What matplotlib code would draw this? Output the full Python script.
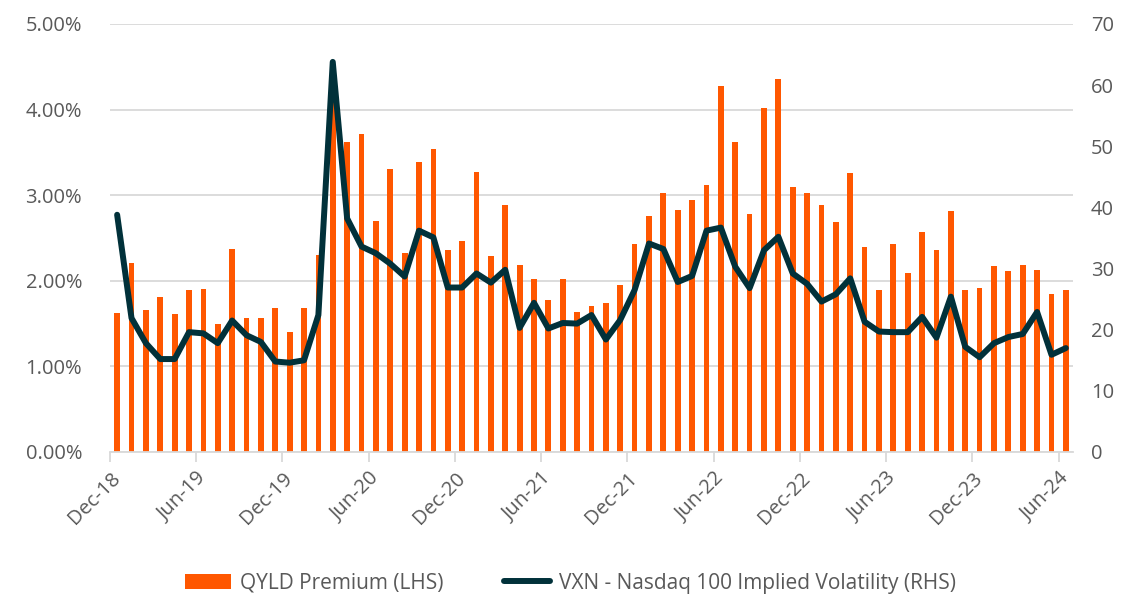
import numpy as np
import matplotlib.pyplot as plt
from matplotlib.ticker import FuncFormatter

# monthly data Dec-18 .. Jun-24
qyld_premium = [1.62, 2.21, 1.66, 1.81, 1.61, 1.89, 1.90, 1.50, 2.37, 1.56, 1.56, 1.68,
                1.40, 1.68, 2.30, 4.15, 3.62, 3.71, 2.70, 3.31, 2.32, 3.39, 3.54, 2.36,
                2.46, 3.27, 2.29, 2.88, 2.18, 2.02, 1.78, 2.02, 1.64, 1.70, 1.74, 1.95,
                2.43, 2.76, 3.03, 2.83, 2.94, 3.12, 4.27, 3.62, 2.78, 4.02, 4.36, 3.09,
                3.02, 2.88, 2.69, 3.26, 2.40, 1.89, 2.43, 2.09, 2.57, 2.36, 2.81, 1.89,
                1.91, 2.17, 2.12, 2.18, 2.13, 1.85, 1.89]
vxn = [38.8, 21.9, 17.8, 15.2, 15.2, 19.6, 19.4, 17.8, 21.5, 19.1, 18.0, 14.8,
       14.6, 15.0, 22.4, 63.8, 38.2, 33.6, 32.5, 30.8, 28.7, 36.2, 35.1, 26.9,
       26.9, 29.2, 27.7, 29.8, 20.3, 24.4, 20.2, 21.1, 21.0, 22.4, 18.4, 21.6,
       26.5, 34.1, 33.2, 27.8, 28.8, 36.2, 36.7, 30.3, 26.8, 33.0, 35.2, 29.2,
       27.5, 24.6, 25.8, 28.4, 21.3, 19.7, 19.6, 19.6, 22.1, 18.7, 25.4, 17.2,
       15.5, 17.8, 18.8, 19.3, 22.9, 15.9, 17.0]
tick_labels = ["Dec-18", "Jun-19", "Dec-19", "Jun-20", "Dec-20", "Jun-21",
               "Dec-21", "Jun-22", "Dec-22", "Jun-23", "Dec-23", "Jun-24"]

orange = "#FF5700"
teal = "#01313A"
grey_txt = "#595959"
grid_c = "#D9D9D9"

plt.rcParams['font.family'] = ['Open Sans', 'DejaVu Sans']

fig = plt.figure(figsize=(11.3, 5.97), dpi=100)
ax = fig.add_axes([0.0973, 0.2429, 0.9496 - 0.0973, 0.9598 - 0.2429])
ax2 = ax.twinx()

x = np.arange(len(qyld_premium))
bars = ax.bar(x, qyld_premium, width=0.4, color=orange, zorder=2,
              label="QYLD Premium (LHS)")
line, = ax2.plot(x, vxn, color=teal, lw=4.3, solid_joinstyle='round',
                 solid_capstyle='round', label="VXN - Nasdaq 100 Implied Volatility (RHS)")

ax.set_xlim(-0.5, len(x) - 0.5)
ax.set_ylim(0, 5)
ax2.set_ylim(0, 70)
ax.set_yticks(np.arange(0, 5.01, 1))
ax.yaxis.set_major_formatter(FuncFormatter(lambda v, p: f"{v:.2f}%"))
ax2.set_yticks(np.arange(0, 71, 10))

ax.grid(axis='y', color=grid_c, lw=1.3, zorder=0)
ax.set_axisbelow(True)
for a in (ax, ax2):
    for s in ('top', 'left', 'right', 'bottom'):
        a.spines[s].set_visible(False)
ax.spines['bottom'].set_visible(True)
ax.spines['bottom'].set_color(grid_c)
ax.spines['bottom'].set_linewidth(1.3)

ax.set_xticks(np.arange(-0.5, len(x), 6))
ax.set_xticklabels(tick_labels, rotation=45, ha='right', rotation_mode='anchor')
ax.tick_params(axis='x', length=7, color=grid_c, width=1.3, labelcolor=grey_txt,
               labelsize=14.5, pad=5)
ax.tick_params(axis='y', length=0, labelcolor=grey_txt, labelsize=14.5, pad=20)
ax2.tick_params(axis='y', length=0, labelcolor=grey_txt, labelsize=14.5, pad=13)

fig.legend(handles=[bars, line], loc='center', bbox_to_anchor=(0.505, 0.023),
           ncol=2, frameon=False, fontsize=15, labelcolor=grey_txt,
           handlelength=2.2, columnspacing=2.9, handletextpad=0.45)

fig.savefig("out.png", dpi=100)
